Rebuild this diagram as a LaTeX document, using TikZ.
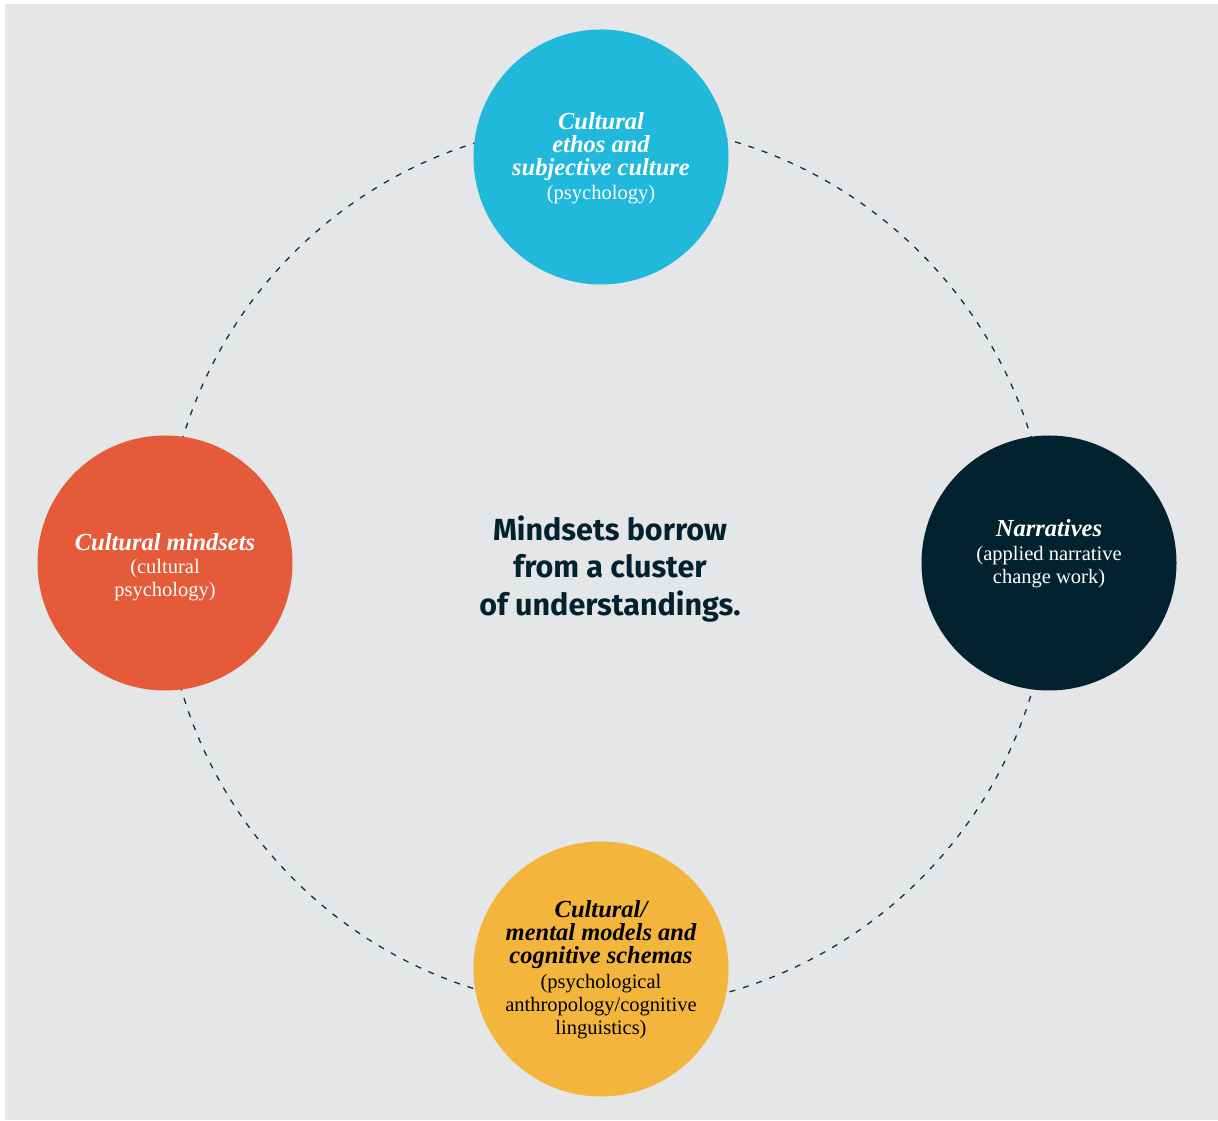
\documentclass[tikz,border=0pt]{standalone}
\usepackage{fontspec}
\setmainfont{Liberation Serif}
\newfontfamily\ctrfont{Fira Sans}
\definecolor{bgc}{HTML}{E5E6E8}
\definecolor{cyanc}{HTML}{20B8DB}
\definecolor{orangec}{HTML}{E55A38}
\definecolor{navyc}{HTML}{03222F}
\definecolor{yellowc}{HTML}{F3B53B}
\definecolor{ringc}{HTML}{13303B}
\newcommand{\hd}[1]{{\fontsize{24.5}{23}\selectfont\bfseries\itshape #1}}
\begin{document}
\begin{tikzpicture}[x=1pt,y=1pt,
  bubble/.style={circle,minimum size=255pt,inner sep=0pt,draw=none},
  btext/.style={align=center,font=\fontsize{20.5}{23}\selectfont,inner sep=0pt},
  ring/.style={draw=ringc,line width=1.3pt,dash pattern=on 6pt off 8pt},
  ctext/.style={align=center,text=navyc,font=\ctrfont\bfseries\fontsize{30.5}{37.5}\selectfont,inner sep=0pt}]
\useasboundingbox (0,0) rectangle (1218,1120);
\fill[bgc] (5,0) rectangle (1218,1116);
\coordinate (rc) at (607,554);
\draw[ring] (rc) circle (443);
\node[bubble,fill=cyanc] (top) at (601,963) {};
\node[bubble,fill=orangec] (left) at (165,557) {};
\node[bubble,fill=navyc] (right) at (1049,557) {};
\node[bubble,fill=yellowc] (bot) at (601,151) {};
\node[btext,text=white] (toptxt) at ([yshift=-1.5pt]top.center) {\hd{Cultural}\\\hd{ethos and}\\\hd{subjective culture}\\[1pt](psychology)};
\node[btext,text=white] (lefttxt) at ([yshift=-4pt]left.center) {\hd{Cultural mindsets}\\(cultural\\psychology)};
\node[btext,text=white] (righttxt) at ([yshift=9pt]right.center) {\hd{Narratives}\\[1pt](applied narrative\\change work)};
\node[btext,text=black] (bottxt) at ([yshift=-0.5pt]bot.center) {\hd{Cultural/}\\\hd{mental models and}\\\hd{cognitive schemas}\\[2.5pt](psychological\\anthropology/cognitive\\linguistics)};
\node[ctext] (ctr) at (610,551) {Mindsets borrow\\from a cluster\\of understandings.};
\end{tikzpicture}
\end{document}
